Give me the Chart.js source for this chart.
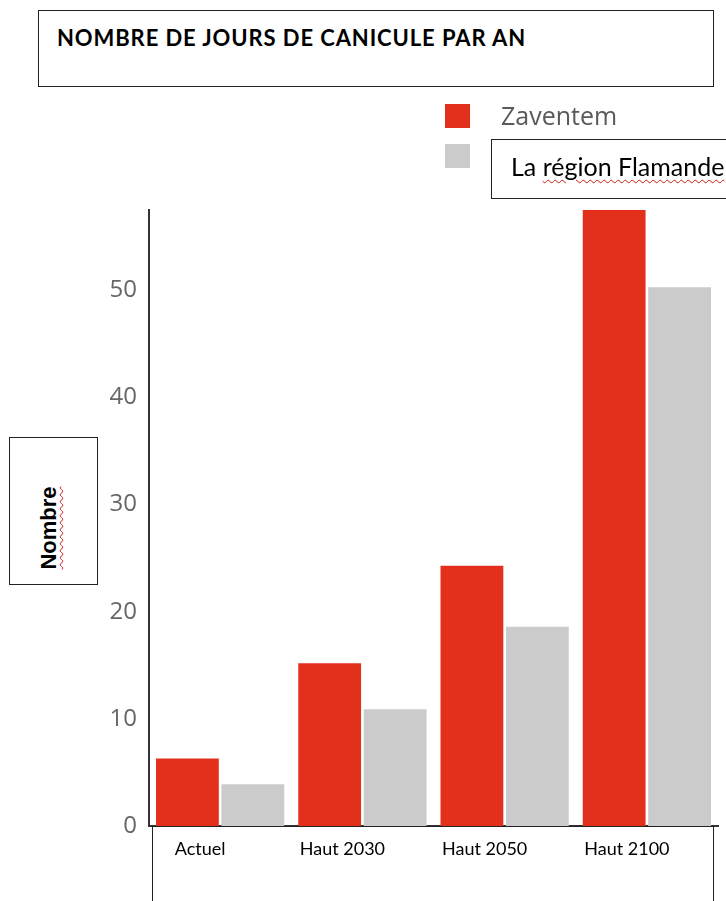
<!DOCTYPE html>
<html>
<head>
<meta charset="utf-8">
<script src="https://cdn.jsdelivr.net/npm/chart.js@4/dist/chart.umd.min.js"></script>
<style>
    body { margin: 0; width: 726px; height: 901px; overflow: hidden; background: #fff; position: relative; font-family: "Lato", sans-serif; }
    #container { position: absolute; left: 0; top: 0; }
    .box { position: absolute; border: 1px solid #222; box-sizing: border-box; }
    #title-box { left: 38px; top: 10px; width: 676px; height: 77px; background: #fff; }
    #title-box span { position: absolute; left: 18px; top: 13px; font-weight: bold; font-size: 22px; letter-spacing: 0.9px; color: #000; white-space: nowrap; }
    .leg { position: absolute; width: 25px; height: 24px; left: 445px; }
    #leg-name0 { position: absolute; left: 501px; top: 98px; font-family: "Open Sans", sans-serif; font-size: 25px; color: #595959; white-space: nowrap; }
    #leg-box { left: 491px; top: 139px; width: 250px; height: 60px; background: #fff; }
    #leg-box span#leg-name1 { position: absolute; left: 19px; top: 11px; font-size: 25px; color: #000; white-space: nowrap; }
    .squiggle { text-decoration: underline wavy #d01818; text-decoration-thickness: 1px; text-underline-offset: 3px; }
    #y-box { left: 9px; top: 437px; width: 89px; height: 148px; background: #fff; }
    #y-box span { position: absolute; left: 39px; top: 90px; transform: translate(-50%, -50%) rotate(-90deg); font-family: "Liberation Sans", sans-serif; font-weight: bold; font-size: 22px; color: #000; white-space: nowrap; }
    #x-box { left: 152px; top: 826px; width: 562px; height: 90px; }
</style>
</head>
<body>
<canvas id="container" width="726" height="901"></canvas>
<div class="box" id="title-box"><span>NOMBRE DE JOURS DE CANICULE PAR AN</span></div>
<div class="leg" id="leg0" style="top:104px"></div>
<div id="leg-name0"></div>
<div class="leg" id="leg1" style="top:144px"></div>
<div class="box" id="leg-box"><span id="leg-name1"></span></div>
<div class="box" id="y-box"><span class="squiggle">Nombre</span></div>
<div class="box" id="x-box"></div>
<script>
"use strict";

const categories = ["Actuel", "Haut 2030", "Haut 2050", "Haut 2100"];
const seriesNames = ["Zaventem", "La région Flamande"];
const zaventem = [6.3, 15.2, 24.3, 58];
const flandre = [3.9, 10.9, 18.6, 50.3];
const colors = ["#e3301d", "#cbcbcb"];

// legend (the second label sits in a text box)
document.getElementById("leg0").style.background = colors[0];
document.getElementById("leg1").style.background = colors[1];
document.getElementById("leg-name0").textContent = seriesNames[0];
var nm = seriesNames[1].split(" ");
document.getElementById("leg-name1").innerHTML = nm[0] + ' <span class="squiggle">' + nm.slice(1).join(" ") + '</span>';

var ctx = document.getElementById("container").getContext("2d");
var dataChart = new Chart(ctx, {
    type: 'bar',
    data: {
        labels: categories,
        datasets: [{
            label: seriesNames[0],
            backgroundColor: colors[0],
            data: zaventem,
        },{
            label: seriesNames[1],
            backgroundColor: colors[1],
            data: flandre,
        }],
    },
    options: {
        responsive: false,
        animation: false,
        datasets: {
            bar: { barPercentage: 0.96, categoryPercentage: 0.92 }
        },
        layout: {
            padding: { top: 210, right: 8, left: 0, bottom: 0 }
        },
        plugins: {
            legend: { display: false },
            tooltip: { enabled: false }
        },
        scales: {
            x: {
                grid: { display: false },
                border: { color: "#333", width: 2 },
                ticks: {
                    color: "#000",
                    font: { family: "Lato", size: 18 },
                    padding: 4,
                    labelOffset: -20
                },
                afterFit: function(scale) { scale.height = 75; }
            },
            y: {
                min: 0,
                max: 57.5,
                grid: { display: false },
                border: { color: "#333", width: 2 },
                ticks: {
                    stepSize: 10,
                    includeBounds: false,
                    color: "#666",
                    font: { family: "Open Sans", size: 24 },
                    padding: 4
                },
                afterFit: function(scale) { scale.width = 149; }
            }
        }
    }
});
</script>
</body>
</html>
